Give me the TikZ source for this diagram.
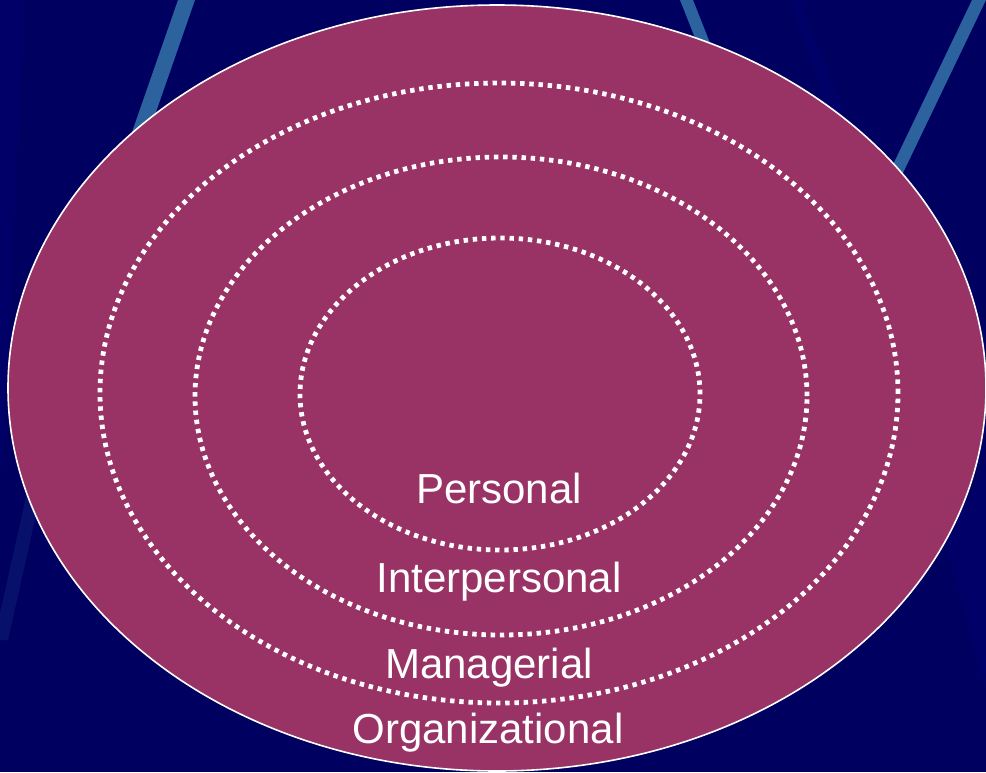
\documentclass[tikz,border=0pt]{standalone}
\usepackage{fontspec}
\setmainfont{Liberation Sans}
\definecolor{navy}{RGB}{0,0,96}
\definecolor{navyl}{RGB}{0,0,112}
\definecolor{stripe}{RGB}{44,98,158}
\definecolor{plum}{RGB}{153,51,102}
\tikzset{
  ring/.style={draw=white, line width=3.6pt, dash pattern=on 3.3pt off 3.6pt},
  lbl/.style={text=white, anchor=base, inner sep=0pt, font=\fontsize{31.5}{36}\selectfont}
}
\begin{document}
\begin{tikzpicture}[x=0.75pt,y=-0.75pt]
\useasboundingbox (0,0) rectangle (986,772);
\fill[navy] (0,0) rectangle (986,772);
\begin{scope}
\clip (0,0) rectangle (986,772);
% subtle lighter background wedges
\fill[navyl, opacity=0.5] (0,0) -- (25,0) -- (0,500) -- cycle;
\fill[navyl, opacity=0.6] (790,0) -- (800,0) -- (850,130) -- (835,130) -- cycle;
\fill[navyl, opacity=0.5] (945,540) -- (986,470) -- (986,690) -- cycle;
% light stripes
\fill[stripe] (178,0) -- (195,0) -- (148,135) -- (131,135) -- cycle;
\fill[stripe, opacity=0.18] (32,470) -- (46,470) -- (8,640) -- (-6,640) -- cycle;
\fill[stripe] (680,0) -- (693,0) -- (712,48) -- (699,48) -- cycle;
\fill[stripe] (972,0) -- (986,0) -- (902,175) -- (888,175) -- cycle;
\end{scope}
\draw[white, line width=1.2pt, fill=plum] (497,388) ellipse [x radius=366.75pt, y radius=287.25pt];
\draw[ring] (499,393) ellipse [x radius=299.25pt, y radius=232.5pt];
\draw[ring] (501,396) ellipse [x radius=229.5pt, y radius=179.25pt];
\draw[ring] (500,394) ellipse [x radius=150pt, y radius=117pt];
\node[lbl] (personal) at (499,503) {Personal};
\node[lbl] (interpersonal) at (499,592) {Interpersonal};
\node[lbl] (managerial) at (489,678) {Managerial};
\node[lbl] (organizational) at (488,743) {Organizational};
\end{tikzpicture}
\end{document}
